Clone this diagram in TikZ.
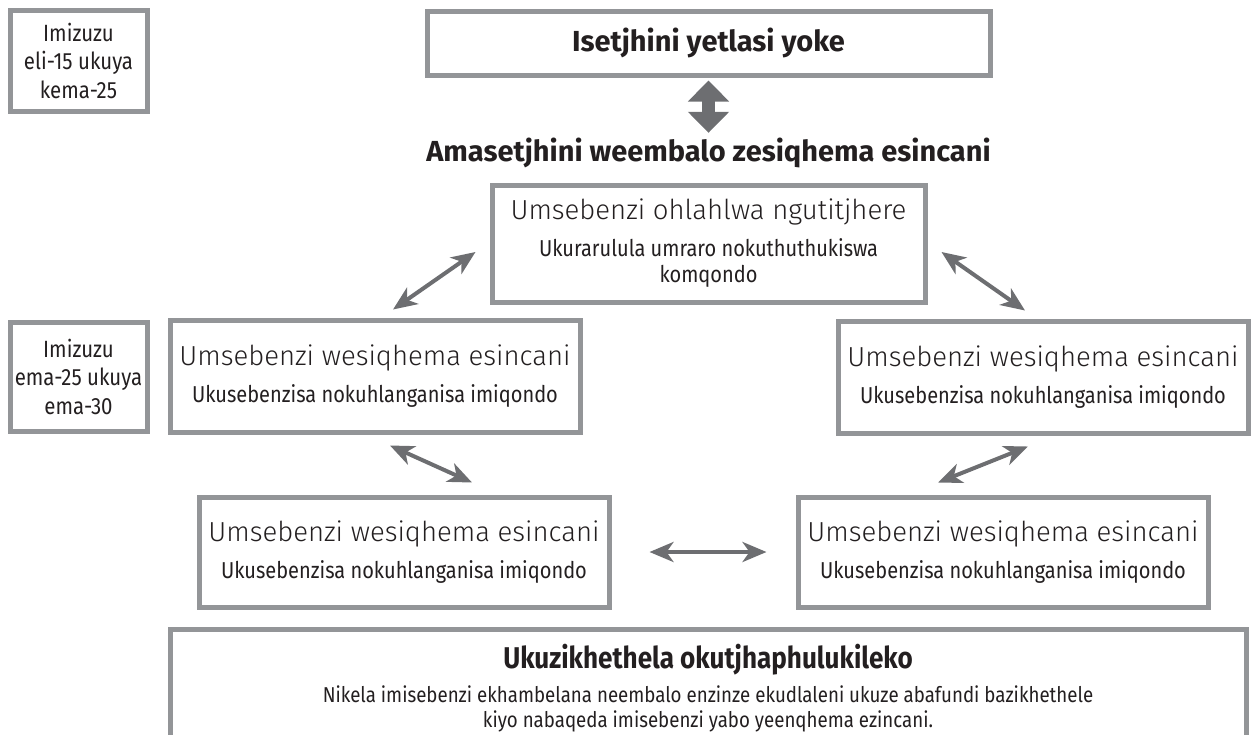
\documentclass[tikz,border=0pt]{standalone}
\usepackage{fontspec}
\usetikzlibrary{arrows.meta}
\setmainfont{Fira Sans}
\newfontfamily\lightfont{Fira Sans Light}
\newfontfamily\condfont{Fira Sans}[FakeStretch=0.87]

\definecolor{framegray}{HTML}{939598}
\definecolor{arrowgray}{HTML}{6D6E71}
\definecolor{inkblack}{HTML}{231F20}

\newcommand\bigline[1]{{\lightfont\fontsize{27.5}{33}\selectfont #1}}

\tikzset{
  frame/.style={draw=framegray, line width=5pt, fill=white, inner sep=0pt,
    align=center, text=inkblack, font=\condfont\fontsize{23}{26}\selectfont},
  timebox/.style={frame, minimum width=137pt, minimum height=101pt,
    font=\condfont\fontsize{23.5}{28.5}\selectfont},
  taskbox/.style={frame, minimum width=410pt, minimum height=112pt},
  heading/.style={text=inkblack, inner sep=0pt, font=\bfseries\fontsize{29}{34}\selectfont},
  link/.style={arrowgray, line width=4pt,
    {Stealth[length=24pt,width=20pt,inset=7pt]}-{Stealth[length=24pt,width=20pt,inset=7pt]}},
  bigarrow/.style={arrowgray, line width=13pt,
    {Triangle[length=21pt,width=40pt]}-{Triangle[length=21pt,width=40pt]}},
}

\begin{document}
\begin{tikzpicture}[x=1pt, y=-1pt]
  \useasboundingbox (0,0) rectangle (1253,734);
  \clip (0,0) rectangle (1253,734);

  % time slots on the left
  \node[timebox] (timeA) at (78.5,60.5) {Imizuzu\\eli-15 ukuya\\kema-25};
  \node[timebox, minimum height=109pt] (timeB) at (78.5,376.5) {Imizuzu\\ema-25 ukuya\\ema-30};

  % whole class part
  \node[frame, minimum width=563pt, minimum height=64pt,
        font=\bfseries\fontsize{29}{34}\selectfont] (whole) at (708.5,43) {Isetjhini yetlasi yoke};
  \node[heading] (groups) at (708.5,153) {Amasetjhini weembalo zesiqhema esincani};

  % group rotation
  \node[frame, minimum width=433pt, minimum height=117pt] (guided) at (708.5,243.5)
    {\bigline{Umsebenzi ohlahlwa ngutitjhere}\\[11pt]
     Ukurarulula umraro nokuthuthukiswa\\komqondo};
  \node[taskbox] (groupL) at (375,376)
    {\bigline{Umsebenzi wesiqhema esincani}\\[11pt]Ukusebenzisa nokuhlanganisa imiqondo};
  \node[taskbox] (groupR) at (1043,377)
    {\bigline{Umsebenzi wesiqhema esincani}\\[11pt]Ukusebenzisa nokuhlanganisa imiqondo};
  \node[taskbox, minimum height=110pt] (groupBL) at (404,552)
    {\bigline{Umsebenzi wesiqhema esincani}\\[11pt]Ukusebenzisa nokuhlanganisa imiqondo};
  \node[taskbox, minimum height=110pt] (groupBR) at (1003,552)
    {\bigline{Umsebenzi wesiqhema esincani}\\[11pt]Ukusebenzisa nokuhlanganisa imiqondo};

  % free choice, runs off the bottom
  \node[frame, anchor=north, minimum width=1076pt, minimum height=118pt,
        font=\condfont\fontsize{21.5}{25}\selectfont] (choice) at (708,627)
    {{\bfseries\fontsize{30}{32}\selectfont Ukuzikhethela okutjhaphulukileko}\\[9pt]
     Nikela imisebenzi ekhambelana neembalo enzinze ekudlaleni ukuze abafundi bazikhethele\\
     kiyo nabaqeda imisebenzi yabo yeenqhema ezincani.};

  \draw[bigarrow] ([yshift=-3pt]whole.south) -- ([yshift=5pt]groups.north);

  \draw[link] ([shift={(18,-8)}]groupL.north) -- ([shift={(-14,8.5)}]guided.west);
  \draw[link] ([shift={(14,8.5)}]guided.east) -- ([shift={(-18,-8)}]groupR.north);
  \draw[link] ([shift={(15,11)}]groupL.south) -- ([shift={(68,-12)}]groupBL.north);
  \draw[link] ([shift={(-15,11)}]groupR.south) -- ([shift={(-65,-12)}]groupBR.north);
  \draw[link] ([xshift=38pt]groupBL.east) -- ([xshift=-29pt]groupBR.west);
\end{tikzpicture}
\end{document}
